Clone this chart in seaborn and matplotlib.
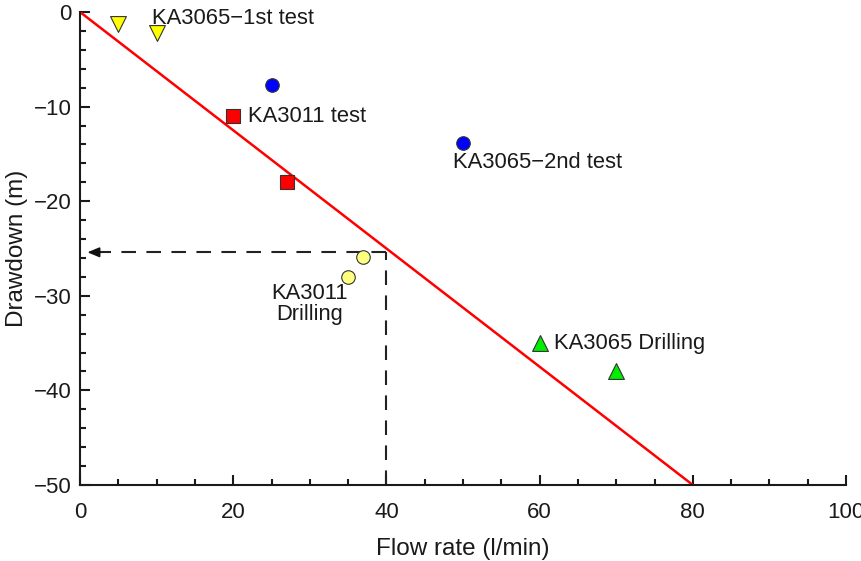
import matplotlib
matplotlib.use("Agg")
import matplotlib.pyplot as plt
from matplotlib.ticker import MultipleLocator
import seaborn as sns
import pandas as pd

sns.set_theme(style="ticks")
plt.rcParams["font.family"] = ["Liberation Sans", "DejaVu Sans"]

# Measured flow rate (l/min) and drawdown (m) per test
ka3065_1st_q = [5, 10]
ka3065_1st_s = [-1.3, -2.2]
ka3065_2nd_q = [25, 50]
ka3065_2nd_s = [-7.7, -13.8]
ka3011_test_q = [20, 27]
ka3011_test_s = [-11.0, -18.0]
ka3011_drill_q = [37, 35]
ka3011_drill_s = [-25.9, -28.0]
ka3065_drill_q = [60, 70]
ka3065_drill_s = [-35.0, -37.9]

# Linear trend through origin
trend_q = [0, 80]
trend_s = [0, -50]

# Read-off at 40 l/min
read_q = 40
read_s = -25.4

fig = plt.figure(figsize=(8.61, 5.61), dpi=100)
ax = fig.add_axes([0.093, 0.1355, 0.8896, 0.843])

sns.lineplot(x=trend_q, y=trend_s, color="red", lw=1.8, ax=ax, zorder=2)

dash = (0, (7, 5))
ax.plot([read_q, read_q], [-50, read_s], ls=dash, color="#222222", lw=1.5, zorder=1)
ax.plot([read_q, 2.5], [read_s, read_s], ls=dash, color="#222222", lw=1.5, zorder=1)
ax.annotate("", xy=(0.6, read_s), xytext=(3.0, read_s),
            arrowprops=dict(arrowstyle="-|>,head_length=0.6,head_width=0.25",
                            color="#111111", lw=1.2))

groups = [
    (ka3065_1st_q, ka3065_1st_s, "v", "#ffff00", 130),
    (ka3065_2nd_q, ka3065_2nd_s, "o", "#0000ff", 95),
    (ka3011_test_q, ka3011_test_s, "s", "#ff0000", 105),
    (ka3011_drill_q, ka3011_drill_s, "o", "#ffff80", 95),
    (ka3065_drill_q, ka3065_drill_s, "^", "#00ee00", 130),
]
for q, s, m, c, size in groups:
    df = pd.DataFrame({"q": q, "s": s})
    sns.scatterplot(data=df, x="q", y="s", marker=m, color=c, s=size,
                    edgecolor="#333333", linewidth=0.8, ax=ax, zorder=3, legend=False)

fs = 15.8
tc = "#1a1a1a"
ax.text(9.4, -0.63, "KA3065\u22121st test", fontsize=fs, ha="left", va="center", color=tc)
ax.text(21.9, -11.0, "KA3011 test", fontsize=fs, ha="left", va="center", color=tc)
ax.text(48.7, -15.86, "KA3065\u22122nd test", fontsize=fs, ha="left", va="center", color=tc)
ax.text(30.0, -30.9, "KA3011\nDrilling", fontsize=fs, ha="center", va="center",
        color=tc, linespacing=1.0)
ax.text(61.9, -35.0, "KA3065 Drilling", fontsize=fs, ha="left", va="center", color=tc)

ax.set_xlim(0, 100)
ax.set_ylim(-50, 0)
ax.xaxis.set_major_locator(MultipleLocator(20))
ax.xaxis.set_minor_locator(MultipleLocator(5))
ax.yaxis.set_major_locator(MultipleLocator(10))
ax.yaxis.set_minor_locator(MultipleLocator(2))
ax.tick_params(which="major", direction="in", length=7, width=1.5, labelsize=16,
               colors=tc)
ax.tick_params(axis="x", which="major", pad=12)
ax.tick_params(axis="y", which="major", pad=6)
ax.tick_params(which="minor", direction="in", length=4, width=1.5, colors=tc)
for side in ["top", "right"]:
    ax.spines[side].set_visible(False)
for side in ["left", "bottom"]:
    ax.spines[side].set_linewidth(1.5)
    ax.spines[side].set_color(tc)

ax.set_xlabel("Flow rate (l/min)", fontsize=17.5, color=tc, labelpad=11)
ax.set_ylabel("Drawdown (m)", fontsize=17.5, color=tc, labelpad=4)

fig.savefig("out.png", dpi=100)
